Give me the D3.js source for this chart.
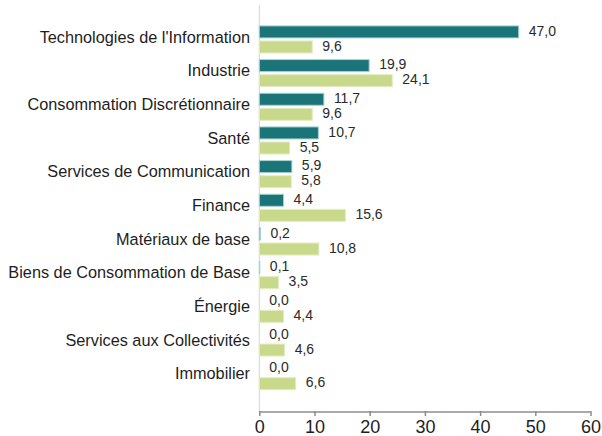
<!DOCTYPE html>
<html>
<head>
<meta charset="utf-8">
<script src="https://cdn.jsdelivr.net/npm/d3@7"></script>
<style>
  body { margin: 0; background: #fff; }
  text { font-family: "Liberation Sans", Arial, sans-serif; }
</style>
</head>
<body>
<div id="my_datavis"></div>
<script>
var categories = ["Technologies de l'Information", "Industrie", "Consommation Discrétionnaire", "Santé",
  "Services de Communication", "Finance", "Matériaux de base", "Biens de Consommation de Base",
  "Énergie", "Services aux Collectivités", "Immobilier"];
var series = ["s1", "s2"];
var values1 = [47.0, 19.9, 11.7, 10.7, 5.9, 4.4, 0.2, 0.1, 0.0, 0.0, 0.0];
var values2 = [9.6, 24.1, 9.6, 5.5, 5.8, 15.6, 10.8, 3.5, 4.4, 4.6, 6.6];
var xTicks = [0, 10, 20, 30, 40, 50, 60];

var colors = { s1: "#1b7477", s2: "#c9d98b" };
var strokes = { s1: "#a9d3d3", s2: "#e4ecc4" };

var width = 602, height = 436;

var svg = d3.select("#my_datavis")
  .append("svg")
  .attr("width", width)
  .attr("height", height);

var x = d3.scaleLinear()
  .domain([0, 60])
  .range([259.3, 590.5]);

var y0 = d3.scaleBand()
  .domain(categories)
  .range([22.6, 393])
  .padding(0);

var y1 = d3.scaleBand()
  .domain(series)
  .range([3.3, 30.4])
  .paddingInner(0.2);

var fmt = function(v) { return v.toFixed(1).replace(".", ","); };

var rows = categories.map(function(c, i) {
  return { cat: c, vals: [{ key: "s1", v: values1[i] }, { key: "s2", v: values2[i] }] };
});

// vertical axis line
svg.append("line")
  .attr("x1", x(0)).attr("x2", x(0))
  .attr("y1", 5).attr("y2", 412)
  .attr("stroke", "#d4d4d4")
  .attr("stroke-width", 1);

var groups = svg.selectAll(".grp")
  .data(rows)
  .enter()
  .append("g")
  .attr("class", "grp")
  .attr("transform", function(d) { return "translate(0," + y0(d.cat) + ")"; });

groups.append("text")
  .attr("x", 250)
  .attr("y", y0.bandwidth() / 2 - 1)
  .attr("text-anchor", "end")
  .attr("dominant-baseline", "middle")
  .attr("font-size", "16.3px")
  .attr("fill", "#1e1e1e")
  .text(function(d) { return d.cat; });

groups.selectAll("rect")
  .data(function(d) { return d.vals; })
  .enter()
  .append("rect")
  .attr("x", x(0))
  .attr("y", function(d) { return y1(d.key); })
  .attr("width", function(d) { return Math.max(0, x(d.v) - x(0)); })
  .attr("height", y1.bandwidth())
  .attr("fill", function(d) { return colors[d.key]; })
  .attr("stroke", function(d) { return d.v > 0 ? strokes[d.key] : "none"; })
  .attr("stroke-width", 1);

groups.selectAll(".val")
  .data(function(d) { return d.vals; })
  .enter()
  .append("text")
  .attr("class", "val")
  .attr("x", function(d) { return x(d.v) + 10; })
  .attr("y", function(d) { return y1(d.key) + y1.bandwidth() / 2; })
  .attr("dominant-baseline", "middle")
  .attr("font-size", "14px")
  .attr("fill", "#2a2a2a")
  .text(function(d) { return fmt(d.v); });

// bottom axis
svg.append("line")
  .attr("x1", x(0)).attr("x2", x(60))
  .attr("y1", 412).attr("y2", 412)
  .attr("stroke", "#8c8c8c")
  .attr("stroke-width", 1.5);

var xAxis = svg.append("g")
  .attr("transform", "translate(0,411)")
  .call(d3.axisBottom(x).tickValues(xTicks).tickSize(5).tickSizeOuter(0).tickPadding(4)
    .tickFormat(function(d) { return d; }));

xAxis.select(".domain").remove();
xAxis.selectAll(".tick line").attr("stroke", "#8c8c8c").attr("stroke-width", 1.5);
xAxis.selectAll(".tick text")
  .attr("font-size", "18px")
  .attr("font-family", "Liberation Sans, Arial, sans-serif")
  .attr("fill", "#1e1e1e");
</script>
</body>
</html>
